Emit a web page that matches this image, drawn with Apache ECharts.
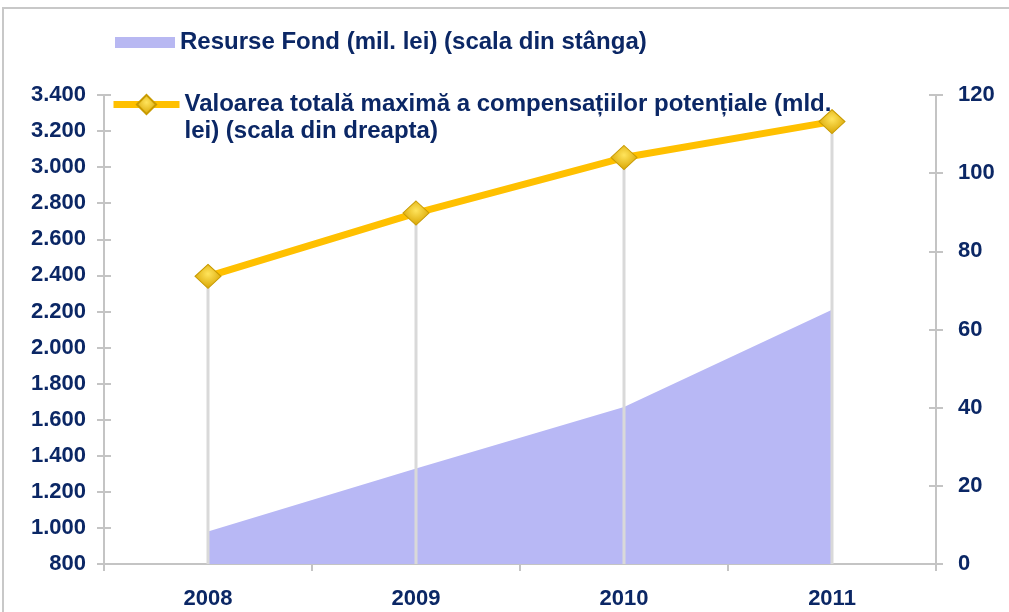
<!DOCTYPE html>
<html lang="ro">
<head>
    <meta charset="UTF-8">
    <title>Resurse Fond</title>
    <script src="https://cdn.jsdelivr.net/npm/echarts@6/dist/echarts.min.js"></script>
    <style>
        html, body { margin: 0; padding: 0; background: #fff; }
    </style>
</head>
<body>
    <div style="height: 612px;width: 1009px" id="chart"></div>
    <script type="text/javascript">
        // date
        var years = ['2008', '2009', '2010', '2011'];
        var resurseFond = [980, 1330, 1670, 2210];          // mil. lei, scala stanga
        var compensatii = [73.6, 89.8, 104.0, 113.2];        // mld. lei, scala dreapta
        var leftTicks = [800, 3400, 200];                    // min, max, interval
        var rightTicks = [0, 120, 20];

        var nameArea = 'Resurse Fond (mil. lei) (scala din stânga)';
        var nameLine = 'Valoarea totală maximă a compensațiilor potențiale (mld. lei) (scala din dreapta)';

        var navy = '#0b2765';
        var gray = '#c4c4c4';
        var axisFont = { color: navy, fontFamily: 'Liberation Sans, Arial, sans-serif', fontWeight: 'bold', fontSize: 22 };
        var legendFont = { color: navy, fontFamily: 'Liberation Sans, Arial, sans-serif', fontWeight: 'bold', fontSize: 24, lineHeight: 27 };

        function fmt(v) {
            return String(v).replace(/\B(?=(\d{3})+(?!\d))/g, '.');
        }

        var myChart = echarts.init(document.getElementById('chart'));

        var option = {
            animation: false,
            grid: { left: 104, right: 73, top: 95, bottom: 48 },
            graphic: [{
                type: 'rect',
                shape: { x: 3, y: 8, width: 1100, height: 700 },
                style: { fill: 'none', stroke: '#c8c8c8', lineWidth: 2 },
                silent: true, z: -1
            }],
            legend: [{
                left: 110, top: 24,
                itemWidth: 60, itemHeight: 11,
                textStyle: legendFont,
                data: [{ name: nameArea, icon: 'rect', itemStyle: { color: '#b8b8f2' } }]
            }, {
                left: 105, top: 59,
                itemWidth: 66, itemHeight: 24,
                textStyle: legendFont,
                formatter: function () {
                    // prima linie goala: icoana ramane aliniata cu primul rand de text
                    return '\u00a0\nValoarea totală maximă a compensațiilor potențiale (mld.\nlei) (scala din dreapta)';
                },
                data: [{ name: nameLine, lineStyle: { width: 7, color: '#ffc000' } }]
            }],
            xAxis: [{
                type: 'category',
                data: years,
                boundaryGap: true,
                axisLine: { lineStyle: { color: gray, width: 2 } },
                axisTick: { show: true, length: 7, lineStyle: { color: gray, width: 2 } },
                axisLabel: Object.assign({ margin: 24 }, axisFont),
                splitLine: { show: false }
            }, {
                type: 'category',
                data: years,
                position: 'bottom',
                boundaryGap: true,
                axisLine: { show: false },
                axisTick: { show: true, inside: true, length: 7, lineStyle: { color: gray, width: 2 } },
                axisLabel: { show: false },
                splitLine: { show: false }
            }],
            yAxis: [{
                type: 'value',
                position: 'left',
                min: leftTicks[0], max: leftTicks[1], interval: leftTicks[2],
                axisLine: { show: true, lineStyle: { color: gray, width: 2 } },
                axisTick: { show: true, length: 7, lineStyle: { color: gray, width: 2 } },
                axisLabel: Object.assign({ margin: 18, formatter: fmt }, axisFont),
                splitLine: { show: false }
            }, {
                type: 'value',
                position: 'right',
                min: rightTicks[0], max: rightTicks[1], interval: rightTicks[2],
                axisLine: { show: true, lineStyle: { color: gray, width: 2 } },
                axisTick: { show: true, length: 7, lineStyle: { color: gray, width: 2 } },
                axisLabel: Object.assign({ margin: 22 }, axisFont),
                splitLine: { show: false }
            }, {
                type: 'value',
                position: 'left',
                min: leftTicks[0], max: leftTicks[1], interval: leftTicks[2],
                axisLine: { show: false },
                axisTick: { show: true, inside: true, length: 7, lineStyle: { color: gray, width: 2 } },
                axisLabel: { show: false },
                splitLine: { show: false }
            }, {
                type: 'value',
                position: 'right',
                min: rightTicks[0], max: rightTicks[1], interval: rightTicks[2],
                axisLine: { show: false },
                axisTick: { show: true, inside: true, length: 7, lineStyle: { color: gray, width: 2 } },
                axisLabel: { show: false },
                splitLine: { show: false }
            }],
            series: [{
                name: nameArea,
                type: 'line',
                yAxisIndex: 0,
                data: resurseFond,
                showSymbol: false,
                symbol: 'none',
                lineStyle: { width: 0, color: '#b8b8f5' },
                itemStyle: { color: '#b8b8f5' },
                areaStyle: { color: '#b8b8f5', opacity: 1, origin: 'start' },
                z: 1
            }, {
                name: 'drop',
                type: 'bar',
                yAxisIndex: 1,
                data: compensatii,
                barWidth: 3,
                itemStyle: { color: '#d9d9d9' },
                z: 2
            }, {
                name: nameLine,
                type: 'line',
                yAxisIndex: 1,
                data: compensatii,
                symbol: 'diamond',
                symbolSize: [26, 24],
                lineStyle: { width: 7, color: '#ffc000' },
                itemStyle: {
                    color: new echarts.graphic.RadialGradient(0.5, 0.4, 0.6, [
                        { offset: 0, color: '#ffe45c' },
                        { offset: 1, color: '#d8a400' }
                    ]),
                    borderColor: '#c89a00',
                    borderWidth: 1
                },
                z: 3
            }]
        };

        myChart.setOption(option);
    </script>
</body>
</html>
